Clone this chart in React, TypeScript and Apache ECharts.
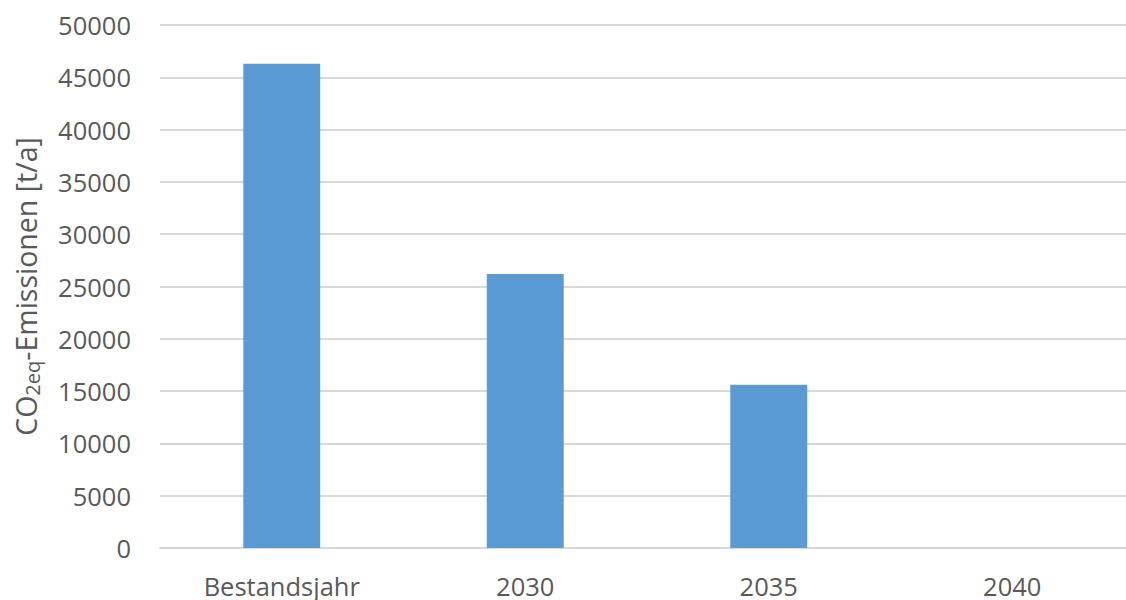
import React, { useEffect, useRef } from "react";
import * as echarts from "echarts";

const categories = ["Bestandsjahr", "2030", "2035", "2040"];
const emissions = [46300, 26200, 15600, 0];
const yMin = 0;
const yMax = 50000;
const yInterval = 5000;

const FONT = "'Open Sans', 'Noto Sans', sans-serif";
const TEXT = "#595959";

export default function App() {
  const ref = useRef<HTMLDivElement>(null);
  useEffect(() => {
    if (!ref.current) return;
    const chart = echarts.init(ref.current, null, { renderer: "svg" });
    chart.setOption({
      animation: false,
      backgroundColor: "#ffffff",
      textStyle: { fontFamily: FONT },
      grid: { left: 160, right: -8, top: 25, bottom: 52, containLabel: false, outerBoundsMode: "none" },
      xAxis: {
        type: "category",
        data: categories,
        axisLine: { show: true, lineStyle: { color: "#D9D9D9", width: 2 } },
        axisTick: { show: false },
        axisLabel: { color: TEXT, fontSize: 25.5, lineHeight: 26, fontFamily: FONT, margin: 25 },
      },
      yAxis: {
        type: "value",
        min: yMin,
        max: yMax,
        interval: yInterval,
        axisLine: { show: false },
        axisTick: { show: false },
        splitLine: { lineStyle: { color: "#D9D9D9", width: 2 } },
        axisLabel: {
          color: TEXT,
          fontSize: 25.5,
          fontFamily: FONT,
          margin: 29,
          formatter: (v: number) => String(v),
        },
        name: "CO{sub|2eq}-Emissionen [t/a]",
        nameLocation: "middle",
        nameGap: 118,
        nameTextStyle: {
          color: TEXT,
          fontSize: 28.5,
          fontFamily: FONT,
          rich: {
            sub: { fontSize: 20, color: TEXT, fontFamily: FONT, padding: [13, 0, 0, 0] },
          },
        },
      },
      series: [
        {
          type: "bar",
          data: emissions,
          barWidth: "31.6%",
          itemStyle: { color: "#5B9BD5" },
        },
      ],
    });
    return () => chart.dispose();
  }, []);
  return <div ref={ref} style={{ position: "fixed", left: 0, top: 0, width: 1126, height: 600 }} />;
}
